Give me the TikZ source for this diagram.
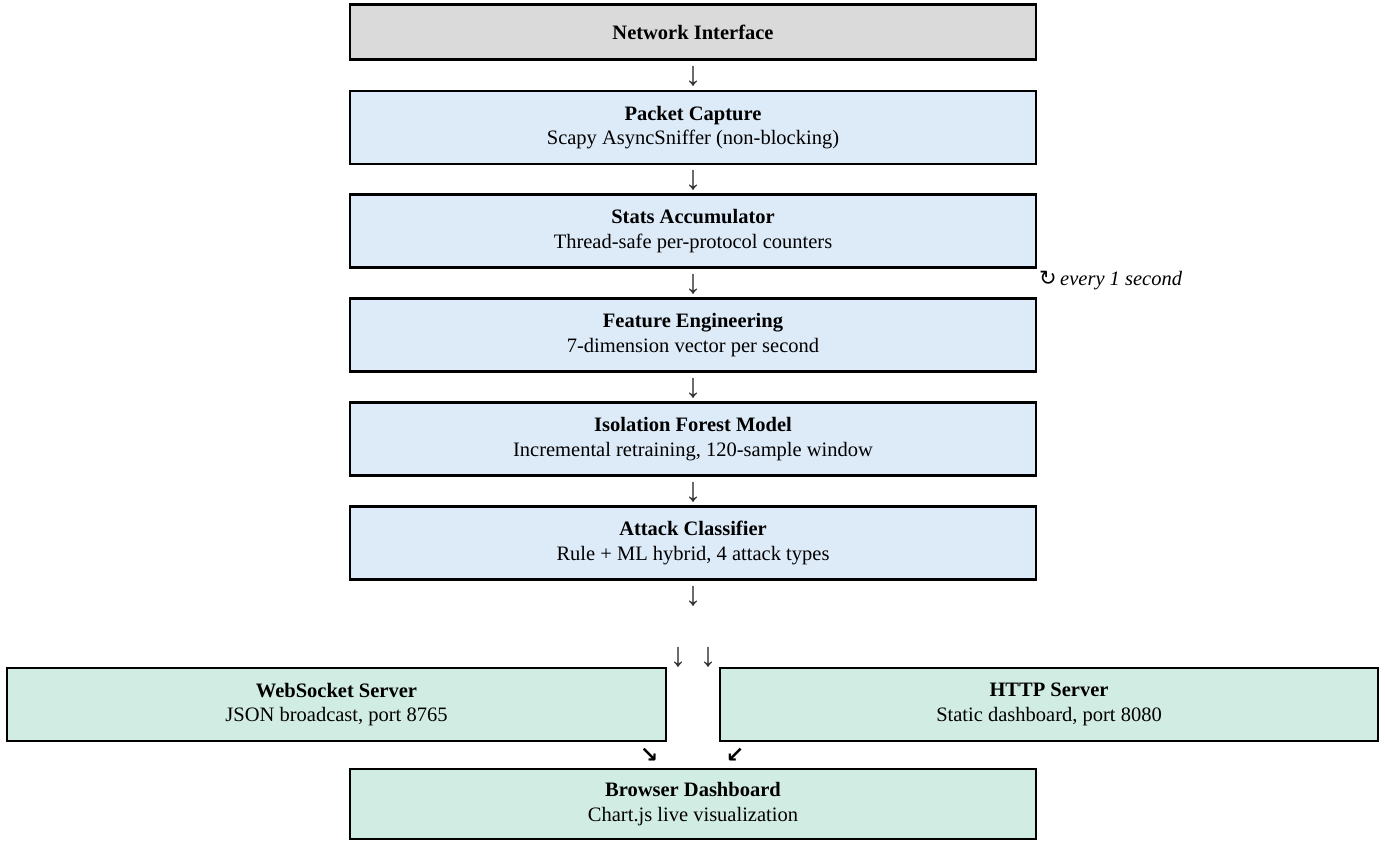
\documentclass[tikz,border=0pt]{standalone}
\usepackage{fontspec}
\setmainfont{Liberation Serif}
\newfontfamily\symfont{DejaVu Sans}
\definecolor{grayfill}{HTML}{DADADA}
\definecolor{bluefill}{HTML}{DDEBF9}
\definecolor{greenfill}{HTML}{D1ECE3}
\definecolor{arrgray}{HTML}{333333}
\begin{document}
\begin{tikzpicture}[x=1pt,y=-1pt,
  box/.style={draw=black, line width=2.8pt, inner sep=0pt, minimum height=73pt,
    minimum width=686pt, align=center, font=\fontsize{20.5}{24.5}\selectfont},
  graybox/.style={box, fill=grayfill, minimum height=55pt},
  bluebox/.style={box, fill=bluefill},
  greenbox/.style={box, fill=greenfill},
  arr/.style={inner sep=0pt, text=arrgray, font=\fontsize{34}{40}\selectfont},
  darr/.style={inner sep=0pt, font=\symfont\bfseries\fontsize{22}{26}\selectfont}]
\useasboundingbox (0,0) rectangle (1385,841);

\node[graybox] (net) at (693,32) {\textbf{Network Interface}};
\node[bluebox] (pkt) at (693,127.5) {\textbf{Packet Capture}\\Scapy AsyncSniffer (non-blocking)};
\node[bluebox] (stats) at (693,231) {\textbf{Stats Accumulator}\\Thread-safe per-protocol counters};
\node[bluebox] (feat) at (693,335) {\textbf{Feature Engineering}\\7-dimension vector per second};
\node[bluebox] (iso) at (693,439) {\textbf{Isolation Forest Model}\\Incremental retraining, 120-sample window};
\node[bluebox] (atk) at (693,543) {\textbf{Attack Classifier}\\Rule + ML hybrid, 4 attack types};
\node[greenbox, minimum width=659pt] (ws) at (336.5,704.5) {\textbf{WebSocket Server}\\JSON broadcast, port 8765};
\node[greenbox, minimum width=658pt] (http) at (1049,704.5) {\textbf{HTTP Server}\\Static dashboard, port 8080};
\node[greenbox, minimum height=70pt] (bd) at (693,804) {\textbf{Browser Dashboard}\\Chart.js live visualization};

\node[arr] (a1) at (693,76.5) {↓};
\node[arr] (a2) at (693,180) {↓};
\node[arr] (a3) at (693,284) {↓};
\node[arr] (a4) at (693,388) {↓};
\node[arr] (a5) at (693,492) {↓};
\node[arr] (a6) at (693,596) {↓};
\node[arr] (a7) at (678,657) {↓};
\node[arr] (a8) at (708,657) {↓};
\node[darr] (a9) at (649,755.5) {↘};
\node[darr] (a10) at (735,755.5) {↙};

\node[anchor=west, inner sep=0pt, font=\fontsize{20.5}{24.5}\selectfont] (lbl) at (1039,281)
  {{\symfont\fontsize{21}{24}\selectfont ↻}\,\textit{every 1 second}};
\end{tikzpicture}
\end{document}
